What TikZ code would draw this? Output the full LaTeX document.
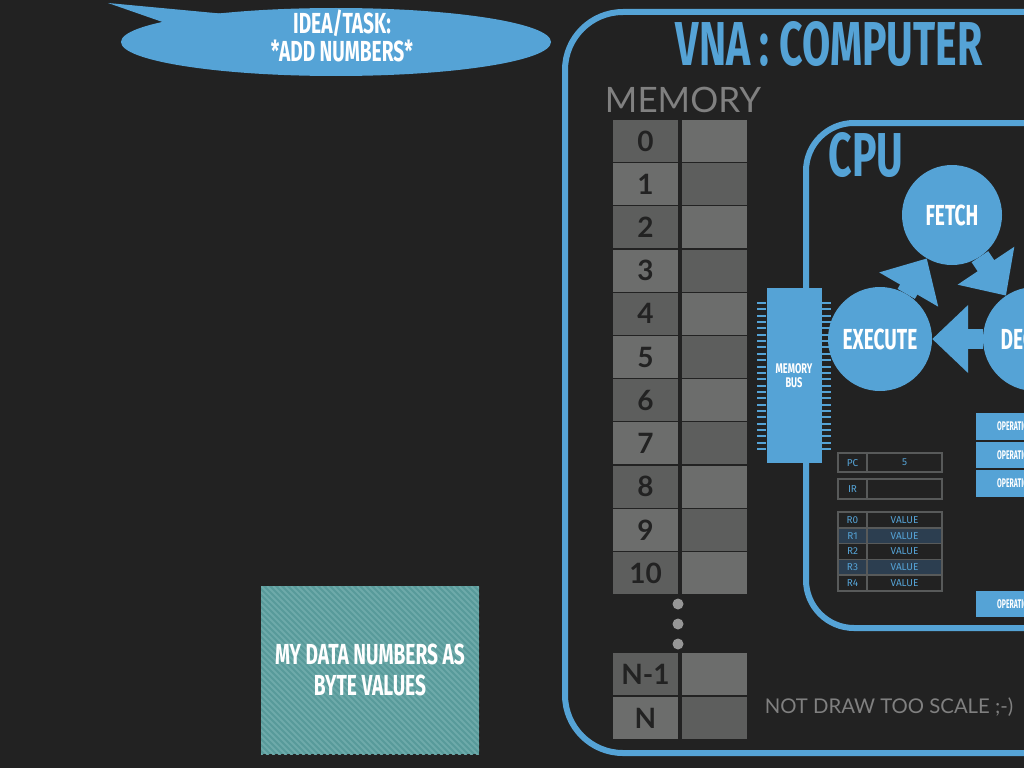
\documentclass[tikz,border=0pt]{standalone}
\usepackage{fontspec}
\setmainfont{Lato}
\newfontfamily\condfont[FakeStretch=0.66]{Fira Sans}
\newfontfamily\narrowfont[FakeStretch=0.55]{Fira Sans}
\newfontfamily\regfont{Fira Sans}
\usetikzlibrary{arrows.meta,shapes.geometric}
\definecolor{bgdark}{RGB}{34,34,34}
\definecolor{vnablue}{RGB}{85,163,214}
\definecolor{cellhi}{RGB}{108,109,108}
\definecolor{celllo}{RGB}{93,94,93}
\definecolor{numdark}{RGB}{34,34,34}
\definecolor{labelgrey}{RGB}{128,128,128}
\definecolor{dotgrey}{RGB}{150,150,150}
\definecolor{reggrey}{RGB}{88,90,90}
\definecolor{reghl}{RGB}{44,62,80}
\definecolor{tealbase}{RGB}{88,154,154}
\definecolor{teallight}{RGB}{110,170,170}
\tikzset{
  vnaframe/.style={draw=vnablue,line width=6pt},
  bigtitle/.style={text=vnablue,inner sep=0,font=\condfont\bfseries\fontsize{62}{62}\selectfont},
  memcell/.style={rectangle,inner sep=0,minimum width=65pt,minimum height=42pt,
                  text=numdark,font=\bfseries\fontsize{28}{28}\selectfont},
  stagecircle/.style={circle,fill=vnablue,inner sep=0,text=white,
                      font=\condfont\bfseries\fontsize{29}{29}\selectfont},
  cyclearrow/.style={line width=20pt,vnablue,-{Triangle[length=36pt,width=66pt]}},
  busbox/.style={rectangle,fill=vnablue,inner sep=0,minimum width=55pt,minimum height=175pt,
                 text=white,align=center,font=\condfont\bfseries\fontsize{14}{14}\selectfont},
  buspin/.style={vnablue,line width=2pt},
  regcell/.style={rectangle,draw=reggrey,line width=1.5pt,inner sep=0,text=vnablue,
                  text depth=0pt,font=\regfont\fontsize{10}{10}\selectfont},
  opbox/.style={rectangle,fill=vnablue,anchor=west,inner sep=0,inner xsep=21pt,
                minimum width=60pt,text=white,align=left,
                font=\narrowfont\bfseries\fontsize{12.5}{12.5}\selectfont},
  databox/.style={rectangle,fill=tealbase,inner sep=0,minimum width=218pt,minimum height=168pt,
                  text=white,align=center,font=\condfont\bfseries\fontsize{29}{31}\selectfont,
                  path picture={\foreach \k in {-36,...,38}
                    \draw[teallight,line width=1.8pt]
                      ([xshift=\k*6pt]path picture bounding box.north west) -- ++(200pt,-200pt);}},
  bubble/.style={ellipse,fill=vnablue,inner sep=0,minimum width=430pt,minimum height=68pt},
  bubbletext/.style={text=white,align=center,inner sep=0,font=\condfont\bfseries\fontsize{29}{28}\selectfont}
}
\begin{document}
\begin{tikzpicture}[x=1pt,y=-1pt]
  \fill[bgdark] (0,0) rectangle (1024,768);
  \useasboundingbox (0,0) rectangle (1024,768);
  \clip (0,0) rectangle (1024,768);

  % task bubble
  \node[bubble] (idea) at (336,42) {};
  \fill[vnablue] (108,3) -- (236,15) -- (174,26) -- cycle;
  \node[bubbletext] (task) at (342,36) {IDEA/TASK:\\*ADD NUMBERS*};

  % data
  \node[databox] (data) at (370,670) {MY DATA NUMBERS AS\\BYTE VALUES};

  % computer
  \draw[vnaframe,rounded corners=58pt] (565,12) rectangle (1110,753);
  \node[bigtitle] (vna) at (829,44) {VNA : COMPUTER};
  \node[text=labelgrey,inner sep=0,font=\fontsize{35}{35}\selectfont] (memlabel) at (683,100) {MEMORY};

  \foreach \i in {0,...,10}{
    \ifodd\i \def\lc{cellhi}\def\rc{celllo}\else \def\lc{celllo}\def\rc{cellhi}\fi
    \node[memcell,fill=\lc] (addr\i) at (645.5,141+43.2*\i) {\i};
    \node[memcell,fill=\rc] (val\i) at (714.5,141+43.2*\i) {};
  }
  \foreach \y in {604,624,644} \fill[dotgrey] (678,\y) circle (5.5);
  \node[memcell,fill=celllo] (addrn1) at (645.5,674) {N-1};
  \node[memcell,fill=cellhi] (valn1) at (714.5,674) {};
  \node[memcell,fill=cellhi] (addrn) at (645.5,718) {N};
  \node[memcell,fill=celllo] (valn) at (714.5,718) {};

  \node[text=labelgrey,inner sep=0,font=\fontsize{20.3}{21}\selectfont] (note) at (889,707) {NOT DRAW TOO SCALE ;-)};

  % cpu
  \draw[vnaframe,rounded corners=48pt] (806,123) rectangle (1110,628);
  \node[bigtitle] (cpu) at (866,155) {CPU};

  % bus
  \node[busbox] (bus) at (794,375.5) {MEMORY\\BUS};
  \foreach \k in {0,...,23}{
    \draw[buspin] (757,303+6.35*\k) -- (766,303+6.35*\k);
    \draw[buspin] (822,303+6.35*\k) -- (831,303+6.35*\k);
  }

  \node[stagecircle,minimum size=100pt] (fetch) at (952,215) {FETCH};
  \node[stagecircle,minimum size=104pt] (execute) at (880,339) {EXECUTE};
  \node[stagecircle,minimum size=104pt] (decode) at (1035,339) {DECODE};
  \draw[cyclearrow] (execute) -- (fetch);
  \draw[cyclearrow] (fetch) -- (decode);
  \draw[cyclearrow] (decode) -- (execute);

  \node[regcell,minimum width=29pt,minimum height=19pt] (pclabel) at (852.5,462.5) {PC};
  \node[regcell,minimum width=75pt,minimum height=19pt] (pcval) at (904.5,462.5) {5};
  \node[regcell,minimum width=29pt,minimum height=20pt] (irlabel) at (852.5,489) {IR};
  \node[regcell,minimum width=75pt,minimum height=20pt] (irval) at (904.5,489) {};
  \foreach \r in {0,...,4}{
    \ifodd\r \def\rf{reghl}\else \def\rf{bgdark}\fi
    \node[regcell,fill=\rf,minimum width=29pt,minimum height=15.8pt] (reg\r) at (852.5,519.9+15.8*\r) {R\r};
    \node[regcell,fill=\rf,minimum width=75pt,minimum height=15.8pt] (regval\r) at (904.5,519.9+15.8*\r) {VALUE};
  }

  \node[opbox,minimum height=27pt] (op1) at (976,426.5) {OPERATION};
  \node[opbox,minimum height=26pt] (op2) at (976,455) {OPERATION};
  \node[opbox,minimum height=27pt] (op3) at (976,483.5) {OPERATION};
  \node[opbox,minimum height=26pt] (op4) at (976,604) {OPERATION};
\end{tikzpicture}
\end{document}
